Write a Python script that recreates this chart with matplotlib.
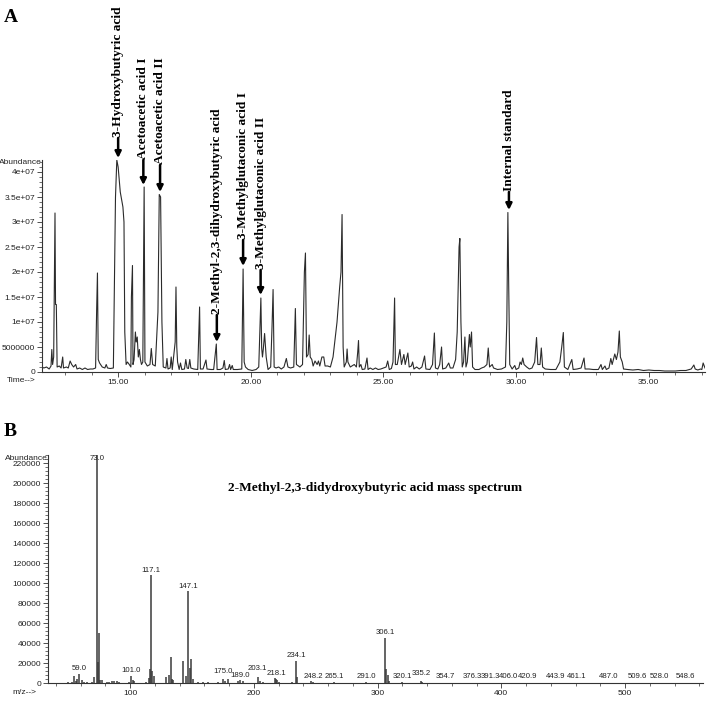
import numpy as np
import matplotlib
matplotlib.use('Agg')
import matplotlib.pyplot as plt
from matplotlib.ticker import MultipleLocator, FuncFormatter

# ---- panel A: total ion chromatogram (time in min, abundance in 1e6)
rt = [12.13, 12.20, 12.30, 12.40, 12.47, 12.50, 12.53, 12.57, 12.62, 12.64, 12.67, 12.70,
      12.78, 12.85, 12.91, 12.94, 13.05, 13.12, 13.19, 13.25, 13.32, 13.40, 13.45, 13.55,
      13.65, 13.75, 13.85, 13.95, 14.05, 14.15, 14.19, 14.22, 14.25, 14.30, 14.40, 14.50,
      14.55, 14.60, 14.70, 14.82, 14.85, 14.90, 14.95, 15.00, 15.08, 15.18, 15.22, 15.25,
      15.30, 15.35, 15.42, 15.48, 15.50, 15.54, 15.56, 15.60, 15.65, 15.68, 15.72, 15.76,
      15.80, 15.84, 15.88, 15.93, 15.98, 16.01, 16.10, 16.20, 16.25, 16.30, 16.40, 16.50,
      16.55, 16.60, 16.65, 16.70, 16.80, 16.84, 16.88, 16.96, 17.00, 17.04, 17.10, 17.15,
      17.18, 17.21, 17.24, 17.30, 17.35, 17.40, 17.50, 17.55, 17.60, 17.65, 17.70, 17.74,
      17.85, 18.00, 18.07, 18.10, 18.20, 18.31, 18.35, 18.50, 18.60, 18.70, 18.73, 18.85,
      18.95, 19.00, 19.04, 19.15, 19.20, 19.24, 19.30, 19.34, 19.50, 19.66, 19.71, 19.75,
      19.80, 19.90, 20.05, 20.20, 20.30, 20.35, 20.38, 20.41, 20.44, 20.47, 20.52, 20.58,
      20.65, 20.75, 20.80, 20.84, 20.88, 20.95, 21.05, 21.15, 21.25, 21.34, 21.40, 21.50,
      21.62, 21.65, 21.68, 21.72, 21.85, 21.95, 22.02, 22.06, 22.10, 22.16, 22.20, 22.24,
      22.30, 22.35, 22.42, 22.50, 22.55, 22.60, 22.68, 22.75, 22.80, 22.90, 23.00, 23.10,
      23.25, 23.35, 23.40, 23.44, 23.48, 23.52, 23.60, 23.63, 23.66, 23.75, 23.90, 23.98,
      24.03, 24.06, 24.09, 24.15, 24.20, 24.30, 24.38, 24.42, 24.50, 24.60, 24.70, 24.80,
      24.90, 25.00, 25.10, 25.16, 25.22, 25.30, 25.36, 25.42, 25.45, 25.52, 25.62, 25.68,
      25.77, 25.82, 25.92, 25.97, 26.05, 26.10, 26.15, 26.25, 26.35, 26.45, 26.55, 26.60,
      26.75, 26.85, 26.92, 26.96, 27.05, 27.12, 27.19, 27.23, 27.35, 27.46, 27.52, 27.62,
      27.72, 27.78, 27.85, 27.88, 27.92, 27.97, 28.02, 28.07, 28.11, 28.16, 28.24, 28.27,
      28.32, 28.36, 28.45, 28.60, 28.70, 28.80, 28.90, 28.95, 29.00, 29.10, 29.15, 29.30,
      29.45, 29.60, 29.65, 29.69, 29.72, 29.76, 29.85, 29.95, 30.00, 30.10, 30.15, 30.20,
      30.25, 30.30, 30.40, 30.50, 30.60, 30.70, 30.77, 30.82, 30.90, 30.95, 31.00, 31.10,
      31.30, 31.50, 31.65, 31.72, 31.78, 31.82, 31.95, 32.10, 32.15, 32.30, 32.45, 32.56,
      32.60, 32.75, 32.90, 33.10, 33.20, 33.25, 33.35, 33.40, 33.50, 33.57, 33.62, 33.72,
      33.78, 33.84, 33.89, 33.93, 34.00, 34.05, 34.20, 34.40, 34.60, 34.80, 35.00, 35.20,
      35.40, 35.60, 35.80, 36.00, 36.20, 36.40, 36.60, 36.70, 36.75, 36.85, 36.95, 37.00,
      37.05, 37.12]
tic = [1.0, 0.8, 1.0, 0.6, 1.2, 4.5, 1.5, 3.0, 31.8, 13.5, 13.5, 1.0,
       1.2, 0.8, 3.0, 0.8, 1.0, 0.8, 2.2, 1.5, 1.0, 1.5, 0.6, 0.8,
       0.5, 0.8, 0.5, 0.6, 0.6, 0.8, 12.5, 19.8, 2.5, 1.8, 1.0, 0.8,
       1.5, 0.8, 0.7, 0.8, 14.0, 35.0, 42.4, 41.0, 36.0, 33.0, 30.0, 8.0,
       1.5, 2.0, 1.5, 1.0, 15.0, 21.3, 1.5, 2.5, 8.0, 6.0, 7.0, 3.0,
       4.5, 2.5, 1.5, 2.0, 37.0, 2.0, 1.2, 1.5, 4.7, 1.5, 1.2, 12.0,
       35.5, 35.0, 10.0, 1.0, 0.8, 2.7, 0.6, 0.8, 3.0, 0.5, 3.5, 6.0,
       17.0, 5.0, 2.0, 0.5, 1.8, 0.5, 0.6, 2.5, 0.8, 0.7, 2.5, 0.8,
       0.6, 0.5, 13.0, 0.6, 0.6, 2.4, 0.6, 0.5, 0.5, 5.6, 0.5, 0.5,
       0.8, 2.3, 0.5, 0.6, 1.5, 0.5, 1.3, 0.5, 0.5, 0.6, 20.6, 2.0,
       1.0, 0.5, 0.3, 0.5, 1.0, 10.0, 14.8, 4.8, 3.0, 4.5, 7.7, 3.0,
       0.5, 1.0, 9.0, 16.5, 1.0, 0.8, 1.0, 0.6, 1.0, 2.7, 1.0, 0.8,
       1.0, 6.5, 12.7, 1.5, 1.0, 1.5, 20.0, 23.8, 3.0, 3.5, 7.4, 3.0,
       2.5, 1.2, 2.2, 1.5, 2.2, 1.2, 3.0, 3.0, 1.2, 1.2, 1.0, 3.0,
       10.0, 17.0, 20.0, 31.5, 5.0, 1.0, 2.0, 4.6, 2.0, 1.0, 1.5, 1.0,
       4.0, 6.3, 1.0, 1.5, 0.5, 0.6, 2.8, 0.5, 0.8, 0.5, 0.8, 0.5,
       0.6, 0.8, 1.0, 2.2, 0.5, 0.7, 2.0, 14.8, 1.5, 1.5, 4.5, 1.5,
       3.5, 1.5, 3.8, 1.0, 1.2, 2.0, 0.6, 1.0, 0.6, 1.0, 3.2, 0.6,
       0.5, 1.5, 7.8, 0.8, 0.6, 1.5, 5.0, 0.6, 0.8, 1.8, 0.8, 0.8,
       2.5, 8.0, 25.0, 26.7, 10.0, 1.0, 2.0, 7.0, 1.0, 2.0, 7.5, 5.0,
       8.0, 1.0, 0.5, 0.5, 0.8, 1.0, 1.5, 4.8, 1.0, 1.5, 0.8, 0.5,
       0.6, 1.0, 10.0, 31.9, 17.8, 1.5, 0.6, 1.3, 0.5, 0.8, 2.0, 1.5,
       2.8, 1.5, 1.0, 0.6, 0.8, 2.0, 6.9, 1.5, 1.5, 4.8, 1.0, 0.6,
       0.5, 0.5, 2.0, 5.0, 7.9, 1.0, 0.5, 2.5, 0.5, 0.6, 0.8, 2.8,
       0.6, 0.6, 0.5, 0.5, 1.5, 0.5, 1.2, 0.5, 0.8, 2.7, 1.5, 3.6,
       2.5, 4.0, 8.2, 3.0, 2.0, 0.6, 0.5, 0.4, 0.5, 0.3, 0.4, 0.3,
       0.3, 0.2, 0.2, 0.2, 0.3, 0.3, 0.6, 1.4, 0.6, 0.4, 0.6, 0.5,
       1.8, 0.8]

# peak annotations: name, retention time, top of arrow, tip of arrow (abundance)
peak_names = ['3-Hydroxybutyric acid', 'Acetoacetic acid I', 'Acetoacetic acid II',
              '2-Methyl-2,3-dihydroxybutyric acid', '3-Methylglutaconic acid I',
              '3-Methylglutaconic acid II', 'Internal standard']
peak_rt = [15.0, 15.95, 16.58, 18.72, 19.71, 20.37, 29.73]
arrow_top = [46.8e6, 42.4e6, 41.4e6, 11.4e6, 26.4e6, 20.4e6, 36.0e6]
arrow_tip = [42.8e6, 37.4e6, 36.0e6, 6.0e6, 21.2e6, 15.4e6, 32.4e6]

# ---- panel B: mass spectrum
mz = [50, 53, 55, 56, 57, 59, 61, 63, 65, 69, 71, 73, 74, 75, 76, 77,
      81, 83, 85, 87, 89, 91, 99, 101, 102, 103, 113, 115, 116, 117, 118, 119,
      129, 131, 133, 134, 135, 143, 145, 147, 148, 149, 151, 155, 159, 163,
      171, 175, 177, 179, 187, 189, 191, 203, 205, 207, 217, 218, 219, 220,
      231, 234, 235, 246, 248, 265, 291, 306, 307, 308, 309, 320, 335, 336,
      355, 376, 391, 406, 421, 444, 461, 487, 510, 528, 549]
intensity = [700, 900, 7500, 2500, 4000, 9500, 3000, 1200, 1500, 1500, 6000, 228000, 21000, 50000, 3500, 3500,
             1200, 1500, 2000, 1800, 2500, 1200, 1200, 7500, 3000, 2000, 1500, 5000, 14000, 108000, 12500, 7000,
             6000, 8000, 26500, 4000, 3500, 22000, 7000, 92000, 15000, 24000, 4500, 1000, 1200, 1000,
             1000, 4500, 2500, 4000, 2500, 3000, 2500, 6500, 2000, 1500, 5000, 4000, 3000, 1500,
             1000, 22500, 6000, 2000, 1500, 1000, 1000, 45000, 14000, 8000, 2000, 1000, 2500, 1200,
             400, 400, 400, 400, 400, 400, 400, 400, 400, 400, 400]
ion_labels = ['59.0', '73.0', '101.0', '117.1', '147.1', '175.0', '189.0', '203.1', '218.1',
              '234.1', '248.2', '265.1', '291.0', '306.1', '320.1', '335.2', '354.7', '376.3',
              '391.3', '406.0', '420.9', '443.9', '461.1', '487.0', '509.6', '528.0', '548.6']

narrow = ['Liberation Sans Narrow', 'Liberation Sans']
serif = 'Liberation Serif'
ink = '#222222'

fig = plt.figure(figsize=(7.10, 7.04), dpi=100)

# ---------------- A
ax = fig.add_axes([42/710, 1 - 372/704, 663/710, 212/704])
ax.plot(rt, np.array(tic)*1e6, color='#2b2b2b', lw=0.8)
ax.set_xlim(12.13, 37.12)
ax.set_ylim(0, 4.24e7)
ax.xaxis.set_major_locator(MultipleLocator(5))
ax.xaxis.set_minor_locator(MultipleLocator(1))
ax.xaxis.set_major_formatter(FuncFormatter(lambda v, p: '%.2f' % v))
ax.yaxis.set_major_locator(MultipleLocator(5e6))
ax.yaxis.set_minor_locator(MultipleLocator(1e6))


def abund_fmt(v, p):
    if v == 0:
        return '0'
    if v < 1e7:
        return '%d' % v
    return '%g' % v


ax.yaxis.set_major_formatter(FuncFormatter(abund_fmt))

for name, t, top, tip in zip(peak_names, peak_rt, arrow_top, arrow_tip):
    ax.annotate('', xy=(t, tip), xytext=(t, top), annotation_clip=False,
                arrowprops=dict(arrowstyle='-|>', lw=1.8, color='black',
                                mutation_scale=9, shrinkA=0, shrinkB=0))
    ax.text(t, top + 0.15e6, name, rotation=90, ha='center', va='bottom',
            family=serif, weight='bold', fontsize=9.6, clip_on=False)

fig.text(42/710, 1 - 163/704, 'Abundance', ha='right', va='center',
         family=narrow, fontsize=6, color=ink)
fig.text(7/710, 1 - 381/704, 'Time-->', ha='left', va='center',
         family=narrow, fontsize=6, color=ink)
fig.text(4/710, 1 - 17/704, 'A', ha='left', va='center', family=serif,
         weight='bold', fontsize=14)

# ---------------- B
bx = fig.add_axes([48/710, 21/704, 655/710, 228/704])
bx.vlines(mz, 0, intensity, color='#3a3a3a', lw=1.1)
bx.set_xlim(33.6, 563)
bx.set_ylim(0, 228500)
bx.xaxis.set_major_locator(MultipleLocator(100))
bx.xaxis.set_minor_locator(MultipleLocator(20))
bx.yaxis.set_major_locator(MultipleLocator(20000))
bx.yaxis.set_minor_locator(MultipleLocator(4000))

# small vertical stagger used by the instrument software to keep labels apart
stagger = {'175.0': 1500, '189.0': -500, '203.1': 2500, '218.1': -1000, '335.2': 1500}

mz_arr = np.array(mz)
int_arr = np.array(intensity)
for lab in ion_labels:
    m = float(lab)
    near = int_arr[np.abs(mz_arr - m) <= 1.2]
    h = near.max() if len(near) else 0
    y = min(max(h, 1000) + 5200, 225000) + stagger.get(lab, 0)
    bx.text(m, y, lab, ha='center', va='center', family=narrow,
            fontsize=5.6, color=ink)

fig.text(375/710, 1 - 488/704, '2-Methyl-2,3-didydroxybutyric acid mass spectrum',
         ha='center', va='center', family=serif, weight='bold', fontsize=9.6)
fig.text(48/710, 1 - 459/704, 'Abundance', ha='right', va='center',
         family=narrow, fontsize=6, color=ink)
fig.text(12/710, 1 - 693/704, 'm/z-->', ha='left', va='center',
         family=narrow, fontsize=6, color=ink)
fig.text(4/710, 1 - 432/704, 'B', ha='left', va='center', family=serif,
         weight='bold', fontsize=14)

for a in (ax, bx):
    for s in ('top', 'right'):
        a.spines[s].set_visible(False)
    for s in ('left', 'bottom'):
        a.spines[s].set_linewidth(0.8)
        a.spines[s].set_color('#333333')
    a.tick_params(which='major', direction='out', length=3.5, width=0.6,
                  colors='#333333', labelsize=6, pad=1.5)
    a.tick_params(which='minor', direction='out', length=2, width=0.5,
                  colors='#333333')
    for lbl in a.get_xticklabels() + a.get_yticklabels():
        lbl.set_family(narrow)
        lbl.set_color(ink)

fig.savefig('out.png', dpi=100)
